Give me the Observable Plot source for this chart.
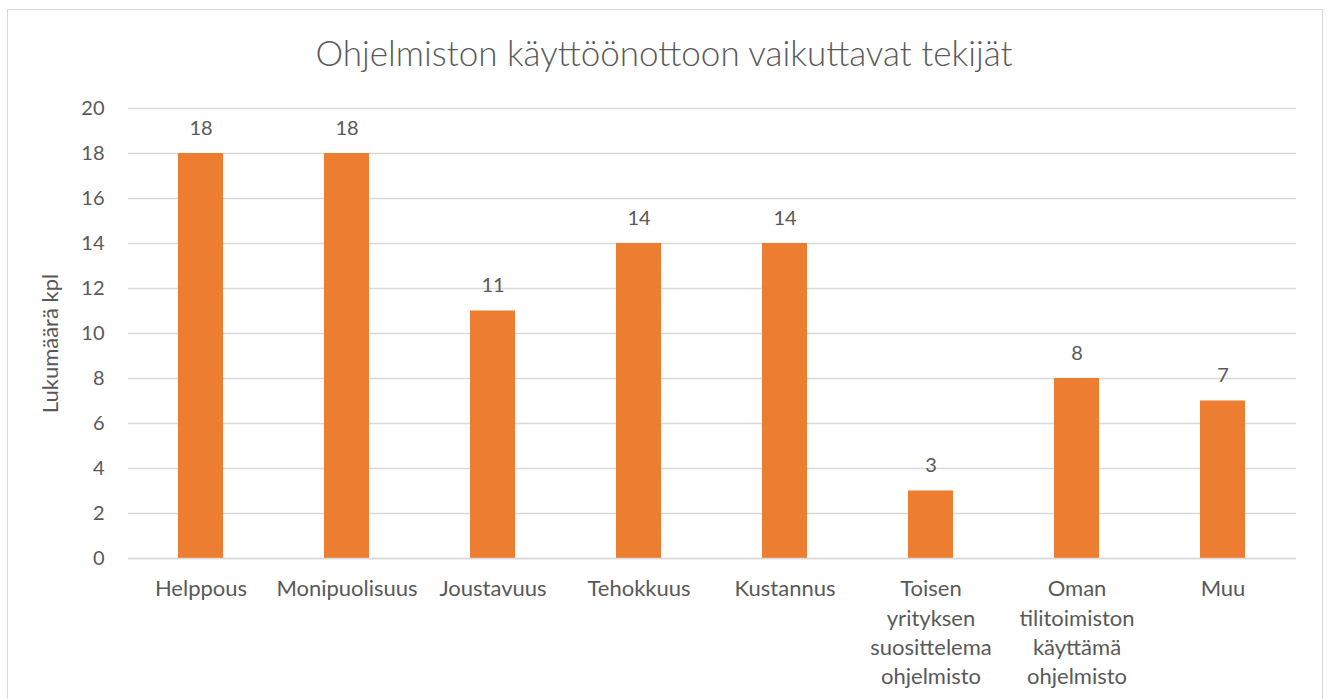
<!DOCTYPE html>
<html>
<head>
<meta charset="utf-8">
<script src="https://cdn.jsdelivr.net/npm/d3@7"></script>
<script src="https://cdn.jsdelivr.net/npm/@observablehq/plot@0.6"></script>
<style>
  html, body { margin: 0; padding: 0; background: #fff; overflow: hidden; }
  body { width: 1328px; height: 699px; position: relative; font-family: Lato, "Open Sans", sans-serif; }
  #frame { position: absolute; left: 7px; top: 9px; width: 1316px; height: 720px; border: 1.5px solid #d9d9d9; box-sizing: border-box; }
  #title { position: absolute; left: 0; width: 1328px; top: 30px; text-align: center; font-size: 35px; font-weight: 300; color: #595959; line-height: 44px; }
  #chart { position: absolute; left: 0; top: 0; }
</style>
</head>
<body>
<div id="frame"></div>
<div id="chart"></div>
<div id="title">Ohjelmiston käyttöönottoon vaikuttavat tekijät</div>
<script>
const categories = ["Helppous", "Monipuolisuus", "Joustavuus", "Tehokkuus", "Kustannus",
  "Toisen\nyrityksen\nsuosittelema\nohjelmisto", "Oman\ntilitoimiston\nkäyttämä\nohjelmisto", "Muu"];
const values = [18, 18, 11, 14, 14, 3, 8, 7];
const yTicks = [0, 2, 4, 6, 8, 10, 12, 14, 16, 18, 20];
const yLabel = "Lukumäärä kpl";

const data = categories.map((c, i) => ({category: c, value: values[i]}));
const textColor = "#595959";

const chart = Plot.plot({
  width: 1328,
  height: 699,
  marginLeft: 128,
  marginRight: 32,
  marginTop: 108,
  marginBottom: 141,
  style: {fontFamily: "Lato, 'Open Sans', sans-serif", background: "transparent", color: textColor},
  x: {domain: categories, paddingInner: 0.69, paddingOuter: 0.345, align: 0.5},
  y: {domain: [0, 20]},
  marks: [
    Plot.gridY(yTicks, {stroke: "#d9d9d9", strokeOpacity: 1, strokeWidth: 1.3}),
    Plot.barY(data, {x: "category", y: "value", fill: "#ED7D31"}),
    Plot.ruleY([0], {stroke: "#d9d9d9", strokeWidth: 1.3}),
    Plot.text(data, {x: "category", y: "value", text: d => String(d.value), dy: -25, fontSize: 20, fill: textColor}),
    Plot.axisY(yTicks, {tickSize: 0, tickPadding: 24, fontSize: 20, fill: textColor, label: null}),
    Plot.axisX({tickSize: 0, tickPadding: 17, fontSize: 22, lineHeight: 1.33, lineAnchor: "top", fill: textColor, label: null}),
    Plot.text([yLabel], {frameAnchor: "left", textAnchor: "middle", dx: -78, dy: 10, rotate: -90, fontSize: 22, fill: textColor})
  ]
});
document.getElementById("chart").appendChild(chart);
</script>
</body>
</html>
